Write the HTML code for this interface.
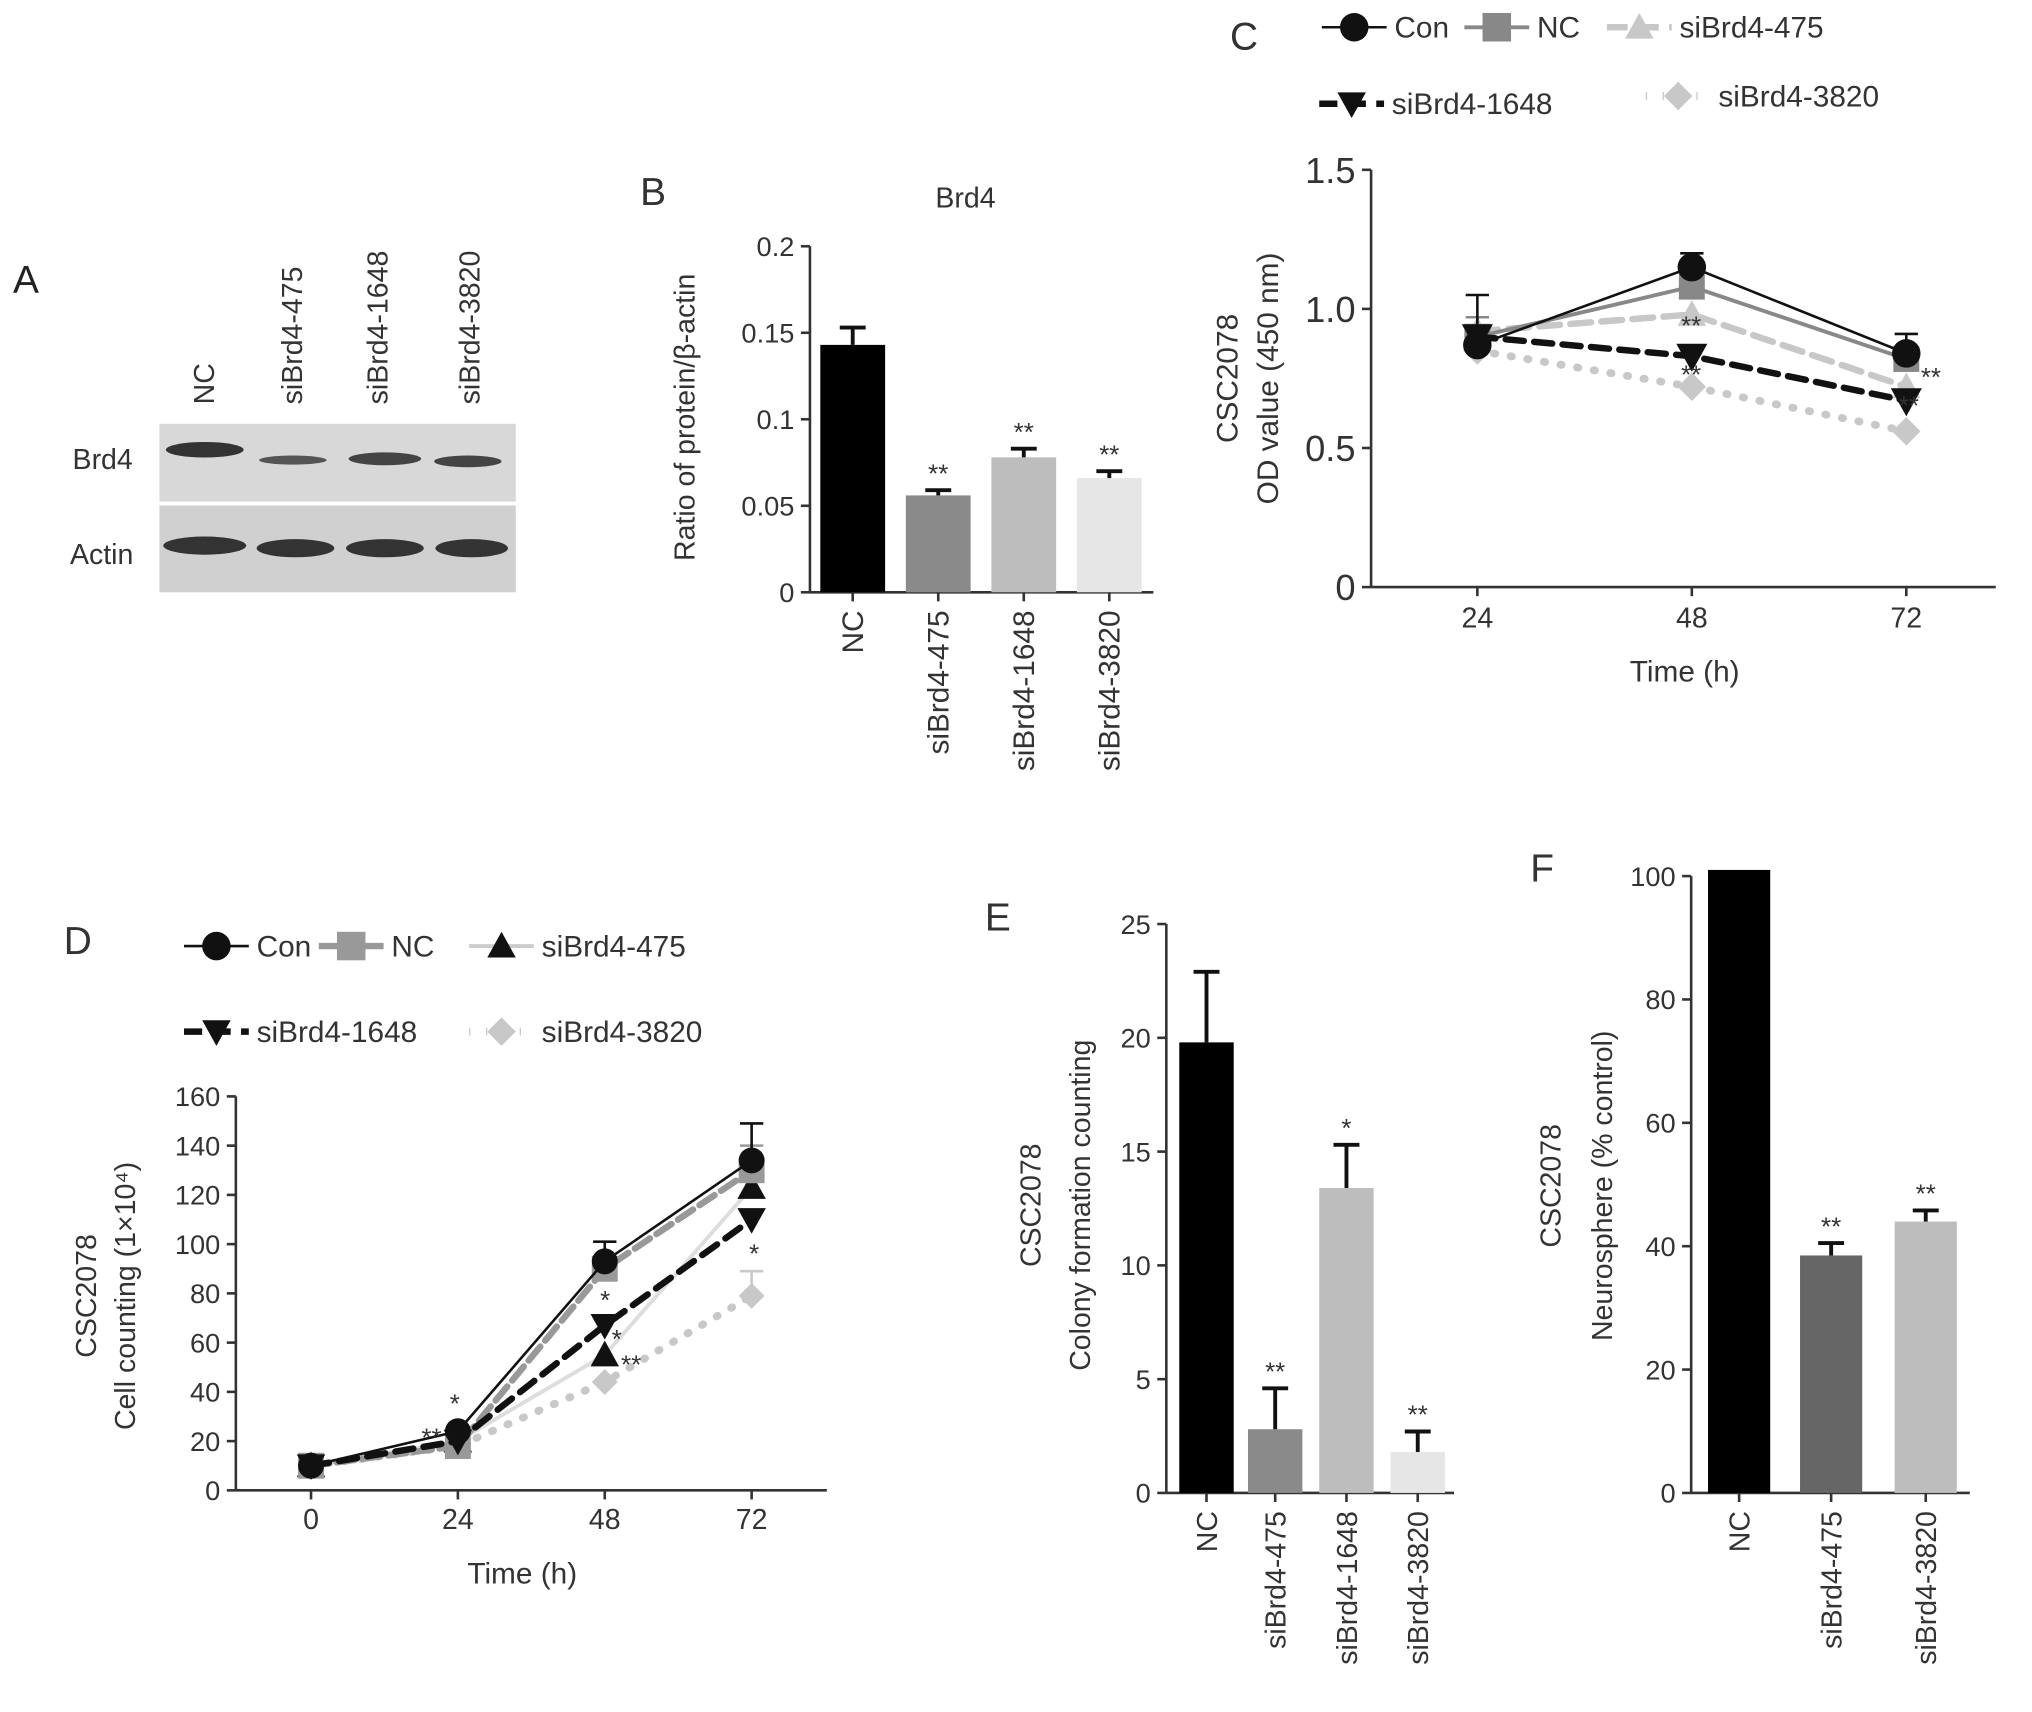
<!DOCTYPE html>
<html><head><meta charset="utf-8"><style>
html,body{margin:0;padding:0;background:#fff}
svg{display:block;font-family:"Liberation Sans",sans-serif}
</style></head><body>
<svg id="fig" width="2032" height="1712" viewBox="0 0 1568 1321" xmlns="http://www.w3.org/2000/svg">
<rect width="1568" height="1321" fill="#fff"/>
<g>
<text x="10" y="226" font-size="30" fill="#222">A</text>
<g font-size="22" fill="#333">
<text transform="translate(165,312) rotate(-90)">NC</text>
<text transform="translate(233,312) rotate(-90)">siBrd4-475</text>
<text transform="translate(299,312) rotate(-90)">siBrd4-1648</text>
<text transform="translate(370,312) rotate(-90)">siBrd4-3820</text>
<text x="56" y="362">Brd4</text><text x="54" y="435">Actin</text>
</g>
<rect x="123" y="327" width="275" height="60" fill="#d8d8d8"/>
<rect x="123" y="390" width="275" height="67" fill="#d0d0d0"/>
<g fill="#333">
<ellipse cx="158" cy="347" rx="30" ry="6"/><ellipse cx="226" cy="355" rx="26" ry="3.5" fill="#555"/>
<ellipse cx="297" cy="354" rx="28" ry="5" fill="#444"/><ellipse cx="361" cy="356" rx="26" ry="4.5" fill="#444"/>
<ellipse cx="158" cy="421" rx="32" ry="7"/><ellipse cx="228" cy="423" rx="30" ry="7"/>
<ellipse cx="297" cy="423" rx="30" ry="7"/><ellipse cx="364" cy="423" rx="28" ry="7"/>
</g>
</g>
<g id="charts"></g>
</svg>
<script>
const NS="http://www.w3.org/2000/svg";
const root=document.getElementById('charts');
function mk(tag,parent,attrs){const e=document.createElementNS(NS,tag);for(const k in attrs)e.setAttribute(k,attrs[k]);parent.appendChild(e);return e;}
function txt(parent,x,y,s,size,anchor,rot){const t=mk('text',parent,{x:x,y:y,'font-size':size,fill:'#333','text-anchor':anchor||'middle'});if(rot)t.setAttribute('transform','rotate('+rot+' '+x+' '+y+')');t.textContent=s;return t;}

// ---------- Panel B ----------
const bCats=["NC","siBrd4-475","siBrd4-1648","siBrd4-3820"];
const bVals=[0.143,0.056,0.078,0.066];
const bErr=[0.010,0.003,0.005,0.004];
const bStars=["","**","**","**"];
const bTicks=[0,0.05,0.1,0.15,0.2];
const bTickLbl=["0","0.05","0.1","0.15","0.2"];
// ---------- Panel C ----------
const cX=[24,48,72];
const cCon=[0.87,1.15,0.84];
const cNC=[0.90,1.08,0.82];
const c475=[0.92,0.98,0.72];
const c1648=[0.90,0.83,0.67];
const c3820=[0.85,0.72,0.56];
const cTicks=[0,0.5,1.0,1.5];
const cTickLbl=["0","0.5","1.0","1.5"];
// ---------- Panel D ----------
const dX=[0,24,48,72];
const dCon=[10,24,93,134];
const dNC=[10,18,90,130];
const d475=[10,20,55,123];
const d1648=[10,20,67,110];
const d3820=[10,18,44,79];
const dTicks=[0,20,40,60,80,100,120,140,160];
// ---------- Panel E ----------
const eCats=["NC","siBrd4-475","siBrd4-1648","siBrd4-3820"];
const eVals=[19.8,2.8,13.4,1.8];
const eErr=[3.1,1.8,1.9,0.9];
const eStars=["","**","*","**"];
const eTicks=[0,5,10,15,20,25];
// ---------- Panel F ----------
const fCats=["NC","siBrd4-475","siBrd4-3820"];
const fVals=[101,38.5,44];
const fErr=[0,2,1.8];
const fStars=["","**","**"];
const fTicks=[0,20,40,60,80,100];

function axisY(g,x,y0,y1,vmin,vmax,ticks,lbls,fs){
  const sc=v=>y0+(v-vmin)/(vmax-vmin)*(y1-y0);
  const ax=mk('line',g,{x1:x,x2:x,y1:sc(vmin),y2:sc(vmax),stroke:'#333','stroke-width':2});
  
  
  ticks.forEach((t,i)=>{mk('line',g,{x1:x-7,x2:x,y1:sc(t),y2:sc(t),stroke:'#333','stroke-width':2});
    const l=txt(g,x-12,sc(t)+(fs||22)*0.36,lbls?lbls[i]:String(t),fs||22,'end');
    
    });
  return sc;
}
function barPanel(name,cats,vals,err,stars,colors,xs,bw,sc,xAxisX0,xAxisX1,baseY,catFs){
  const g=mk('g',root,{});
  
  
  mk('line',g,{x1:xAxisX0,x2:xAxisX1,y1:baseY,y2:baseY,stroke:'#333','stroke-width':2});
  cats.forEach((c,i)=>{
    const x=xs[i],top=sc(vals[i]);
    const r=mk('rect',g,{x:x,y:top,width:bw,height:baseY-top,fill:colors[i]});
    
    
    if(err[i]>0){const et=sc(vals[i]+err[i]);const cx=x+bw/2;
      mk('line',g,{x1:cx,x2:cx,y1:top,y2:et,stroke:'#111','stroke-width':3});
      mk('line',g,{x1:cx-10,x2:cx+10,y1:et,y2:et,stroke:'#111','stroke-width':3});}
    if(stars[i]){const s=txt(g,x+bw/2,sc(vals[i]+err[i])-6,stars[i],20);
      
      }
    mk('line',g,{x1:x+bw/2,x2:x+bw/2,y1:baseY,y2:baseY+7,stroke:'#333','stroke-width':2});
    const l=txt(g,x+bw/2+8,baseY+14,c,catFs||23,'end',-90);
    
    
  });
  return g;
}
// Panel B
(function(){
  const sc=axisY(root,625,457,190,0,0.2,bTicks,bTickLbl,21);
  const g=barPanel('panel-b',bCats,bVals,bErr,bStars,['#000','#8a8a8a','#bdbdbd','#e6e6e6'],[633,699,765,831],50,sc,625,890,457,23);
  txt(g,504,158,'B',30,'middle');
  txt(g,745,160,'Brd4',22);
  txt(g,536,322,'Ratio of protein/β-actin',22,'middle',-90);
})();
// Panel E
(function(){
  const sc=axisY(root,900,1152,713,0,25,eTicks,null,21);
  const g=barPanel('panel-e',eCats,eVals,eErr,eStars,['#000','#8a8a8a','#bdbdbd','#e6e6e6'],[910,963,1018,1073],42,sc,900,1122,1152,22);
  txt(g,770,718,'E',30);
  txt(g,803,930,'CSC2078',22,'middle',-90);
  txt(g,841,930,'Colony formation counting',22,'middle',-90);
})();
// Panel F
(function(){
  const sc=axisY(root,1305,1152,676,0,100,fTicks,null,21);
  const g=barPanel('panel-f',fCats,fVals,fErr,fStars,['#000','#666','#bdbdbd'],[1318,1389,1462],48,sc,1305,1520,1152,22);
  txt(g,1190,680,'F',30);
  txt(g,1204,915,'CSC2078',22,'middle',-90);
  txt(g,1244,915,'Neurosphere (% control)',22,'middle',-90);
})();

function marker(g,type,x,y,size,fill){
  let m;const s=size;
  if(type=='circle')m=mk('circle',g,{cx:x,cy:y,r:s,fill:fill});
  else if(type=='square')m=mk('rect',g,{x:x-s,y:y-s,width:2*s,height:2*s,fill:fill});
  else if(type=='tri')m=mk('polygon',g,{points:`${x},${y-s} ${x-s},${y+s*0.8} ${x+s},${y+s*0.8}`,fill:fill});
  else if(type=='tridown')m=mk('polygon',g,{points:`${x},${y+s} ${x-s},${y-s*0.8} ${x+s},${y-s*0.8}`,fill:fill});
  else m=mk('polygon',g,{points:`${x},${y-s} ${x+s},${y} ${x},${y+s} ${x-s},${y}`,fill:fill});
  
  
  return m;
}
function lineSeries(g,name,xs,ys,sx,sy,st,type,ms,errs){
  const sg=mk('g',g,{});
  
  
  const pts=xs.map((x,i)=>sx(x)+','+sy(ys[i])).join(' ');
  mk('polyline',sg,{points:pts,fill:'none',stroke:st.c,'stroke-width':st.w,'stroke-dasharray':st.d||'none','stroke-linecap':'round'});
  if(errs)xs.forEach((x,i)=>{if(!errs[i])return;const cx=sx(x),t=sy(ys[i]+errs[i]);
    mk('line',sg,{x1:cx,x2:cx,y1:sy(ys[i]),y2:t,stroke:st.c,'stroke-width':2});
    mk('line',sg,{x1:cx-9,x2:cx+9,y1:t,y2:t,stroke:st.c,'stroke-width':2});});
  xs.forEach((x,i)=>marker(sg,type,sx(x),sy(ys[i]),ms,st.m));
}
function legendItem(g,x,y,label,st,type,fs){
  const li=mk('g',g,{});
  
  
  mk('line',li,{x1:x,x2:x+50,y1:y,y2:y,stroke:st.c,'stroke-width':st.w,'stroke-dasharray':st.d||'none'});
  marker(li,type,x+25,y,11,st.m);
  txt(li,x+56,y+8,label,fs||23,'start');
}
const S={con:{c:'#111',w:2,m:'#111'},nc:{c:'#888',w:3,m:'#888'},s475:{c:'#c8c8c8',w:5,d:'16,8',m:'#c8c8c8'},
  s1648:{c:'#111',w:5,d:'14,8',m:'#111'},s3820:{c:'#c8c8c8',w:6,d:'1,12',m:'#c8c8c8'}};
// Panel C
(function(){
  const g=mk('g',root,{});
  
  
  const sy=axisY(g,1058,453,131,0,1.5,cTicks,cTickLbl,28);
  const sx=v=>1140+(v-24)*(331/48);
  mk('line',g,{x1:1058,x2:1540,y1:453,y2:453,stroke:'#333','stroke-width':2});
  cX.forEach(v=>{mk('line',g,{x1:sx(v),x2:sx(v),y1:453,y2:460,stroke:'#333','stroke-width':2});
    const l=txt(g,sx(v),484,String(v),22);});
  txt(g,1300,526,'Time (h)',23);
  txt(g,960,38,'C',30);
  txt(g,955,292,'CSC2078',23,'middle',-90);
  txt(g,986,292,'OD value (450 nm)',23,'middle',-90);
  lineSeries(g,'series-sibrd4-3820',cX,c3820,sx,sy,S.s3820,'diamond',11,null);
  lineSeries(g,'series-sibrd4-475',cX,c475,sx,sy,S.s475,'tri',11,null);
  lineSeries(g,'series-nc',cX,cNC,sx,sy,S.nc,'square',10,[0.07,0.05,0]);
  lineSeries(g,'series-sibrd4-1648',cX,c1648,sx,sy,S.s1648,'tridown',12,null);
  lineSeries(g,'series-con',cX,cCon,sx,sy,S.con,'circle',11,[0.18,0.05,0.07]);
  [[1305,258,'**'],[1305,296,'**'],[1490,298,'**'],[1473,320,'**']].forEach(a=>{const s=txt(g,a[0],a[1],a[2],20);});
  const lg=mk('g',g,{});
  
  
  legendItem(lg,1020,21,'Con',S.con,'circle');
  legendItem(lg,1130,21,'NC',S.nc,'square');
  legendItem(lg,1240,21,'siBrd4-475',S.s475,'tri');
  legendItem(lg,1018,80,'siBrd4-1648',S.s1648,'tridown');
  legendItem(lg,1270,74,'siBrd4-3820',S.s3820,'diamond');
})();
// Panel D
(function(){
  const g=mk('g',root,{});
  
  
  const sy=axisY(g,182,1150,846,0,160,dTicks,null,21);
  const sx=v=>240+v*(340/72);
  mk('line',g,{x1:182,x2:638,y1:1150,y2:1150,stroke:'#333','stroke-width':2});
  dX.forEach(v=>{mk('line',g,{x1:sx(v),x2:sx(v),y1:1150,y2:1157,stroke:'#333','stroke-width':2});
    const l=txt(g,sx(v),1180,String(v),22);});
  txt(g,403,1222,'Time (h)',23);
  txt(g,60,736,'D',30);
  txt(g,74,1000,'CSC2078',22,'middle',-90);
  txt(g,104,1000,'Cell counting (1×10⁴)',22,'middle',-90);
  lineSeries(g,'series-sibrd4-3820',dX,d3820,sx,sy,S.s3820,'diamond',10,[0,0,0,10]);
  lineSeries(g,'series-sibrd4-475',dX,d475,sx,sy,{c:'#ddd',w:3,m:'#111'},'tri',11,null);
  lineSeries(g,'series-nc',dX,dNC,sx,sy,{c:'#999',w:5,d:'14,6',m:'#999'},'square',10,[0,0,0,10]);
  lineSeries(g,'series-sibrd4-1648',dX,d1648,sx,sy,S.s1648,'tridown',11,null);
  lineSeries(g,'series-con',dX,dCon,sx,sy,S.con,'circle',10,[0,0,8,15]);
  [[351,1090,'*'],[333,1116,'**'],[467,1010,'*'],[476,1040,'*'],[487,1060,'**'],[582,974,'*']].forEach(a=>{const s=txt(g,a[0],a[1],a[2],20);});
  const lg=mk('g',g,{});
  
  
  legendItem(lg,142,730,'Con',S.con,'circle');
  legendItem(lg,246,730,'NC',{c:'#999',w:5,m:'#999'},'square');
  legendItem(lg,362,730,'siBrd4-475',{c:'#ccc',w:3,m:'#111'},'tri');
  legendItem(lg,142,796,'siBrd4-1648',S.s1648,'tridown');
  legendItem(lg,362,796,'siBrd4-3820',S.s3820,'diamond');
})();
</script>
</body></html>
